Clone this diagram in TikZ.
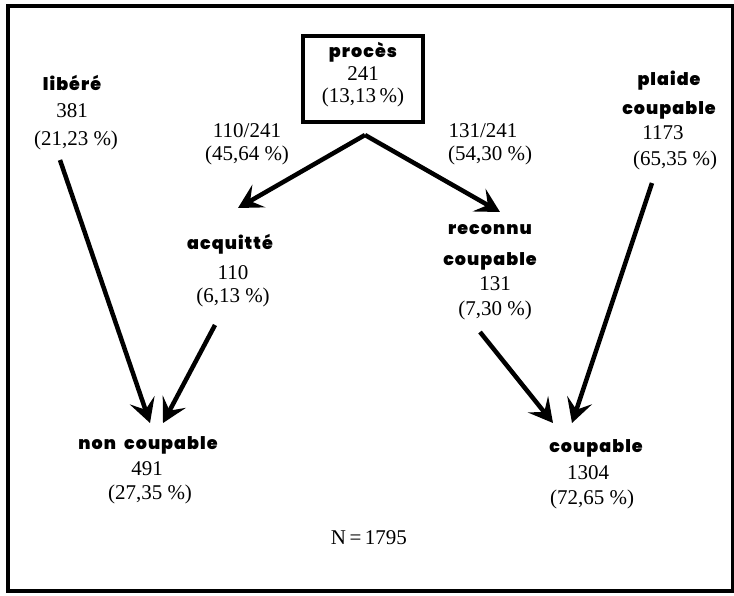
\documentclass[tikz,border=0pt]{standalone}
\usepackage{fontspec}
\setmainfont{Liberation Serif}
\newfontfamily\labfont{Poppins}[LetterSpace=6,BoldFont={* Black}]
\usetikzlibrary{arrows.meta}
\begin{document}
\begin{tikzpicture}[x=1pt,y=-1pt,
  lab/.style={anchor=mid,inner sep=0pt,font=\labfont\bfseries\fontsize{17.5}{17.5}\selectfont},
  num/.style={anchor=mid,inner sep=0pt,font=\fontsize{21}{21}\selectfont},
  arr/.style={line width=4.5pt,-{Stealth[length=24pt,width=26pt,inset=10pt]}},
  frame/.style={line width=4pt}]
\useasboundingbox (0,0) rectangle (734,595);
\draw[frame] (8,6) rectangle (733,591);
% proces box
\node[draw,line width=4pt,minimum width=120pt,minimum height=86pt,inner sep=0pt] (box) at (363,79) {};
\node[lab] (procA) at (363,55) {procès};
\node[num] (procB) at (363,78) {241};
\node[num] (procC) at (363,100) {(13,13\,\%)};
% libere
\node[lab] (libA) at (72,88) {libéré};
\node[num] (libB) at (72,115) {381};
\node[num] (libC) at (76,143) {(21,23 \%)};
% plaide coupable
\node[lab] (plA) at (669,83) {plaide};
\node[lab] (plB) at (669,112) {coupable};
\node[num] (plC) at (663,137) {1173};
\node[num] (plD) at (675,163) {(65,35 \%)};
% ratios
\node[num] (rA) at (247,135) {110/241};
\node[num] (rB) at (247,158) {(45,64 \%)};
\node[num] (sA) at (483,135) {131/241};
\node[num] (sB) at (490,158) {(54,30 \%)};
% acquitte
\node[lab] (acA) at (230,247) {acquitté};
\node[num] (acB) at (233,277) {110};
\node[num] (acC) at (233,300) {(6,13 \%)};
% reconnu coupable
\node[lab] (rcA) at (490,232) {reconnu};
\node[lab] (rcB) at (490,263) {coupable};
\node[num] (rcC) at (495,288) {131};
\node[num] (rcD) at (495,313) {(7,30 \%)};
% non coupable
\node[lab] (ncA) at (148,447) {non\ \ coupable};
\node[num] (ncB) at (147,473) {491};
\node[num] (ncC) at (150,497) {(27,35 \%)};
% coupable
\node[lab] (cpA) at (596,450) {coupable};
\node[num] (cpB) at (588,477) {1304};
\node[num] (cpC) at (592,502) {(72,65 \%)};
% N
\node[num] (N) at (369,542) {N\,=\,1795};
% arrow end points
\coordinate (apex) at (365,135);
\coordinate (acqIn) at (238,208);
\coordinate (rcIn) at (500,212);
\coordinate (libOut) at (60,160);
\coordinate (ncIn1) at (150,423);
\coordinate (acqOut) at (215,325);
\coordinate (ncIn2) at (163,423);
\coordinate (rcOut) at (480,332);
\coordinate (cpIn1) at (553,423);
\coordinate (plOut) at (652,183);
\coordinate (cpIn2) at (572,423);
\draw[arr] (apex) -- (acqIn);
\draw[arr] (apex) -- (rcIn);
\draw[arr] (libOut) -- (ncIn1);
\draw[arr] (acqOut) -- (ncIn2);
\draw[arr] (rcOut) -- (cpIn1);
\draw[arr] (plOut) -- (cpIn2);
\end{tikzpicture}
\end{document}
